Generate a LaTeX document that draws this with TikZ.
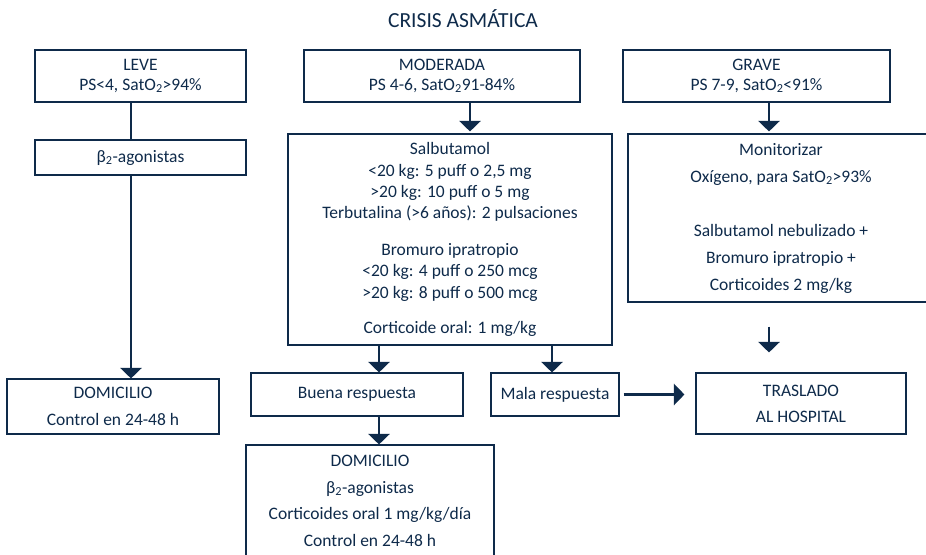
\documentclass[tikz,border=0pt]{standalone}
\usepackage{fontspec}
\setmainfont{Carlito}
\usetikzlibrary{arrows.meta}
\usetikzlibrary{positioning}
\definecolor{navy}{RGB}{14,42,74}

\begin{document}
\begin{tikzpicture}[x=1pt,y=-1pt]
\tikzstyle{box node}=[rectangle,draw=navy,line width=1.1pt,text=navy,align=center,inner sep=0pt,font=\fontsize{17.5}{20}\selectfont]
\tikzstyle{wide node}=[box node,font=\fontsize{17.5}{26.5}\selectfont]
\tikzstyle{link}=[draw=navy,line width=2.6pt]
\tikzstyle{arrow link}=[link,-{Triangle[width=21pt,length=10.5pt]}]

\useasboundingbox (0,0) rectangle (926,554);

    \node[text=navy,font=\fontsize{21.5}{24}\selectfont] (title) at (463,19) {CRISIS ASMÁTICA};

    \node[box node,minimum width=211pt,minimum height=52pt] (leve) at (140.5,76) {LEVE\\PS<4, SatO\textsubscript{2}>94\%};
    \node[box node,minimum width=276pt,minimum height=52pt] (mod)  at (442,76)   {MODERADA\\PS 4-6, SatO\textsubscript{2}91-84\%};
    \node[box node,minimum width=267pt,minimum height=52pt] (grave) at (756.5,76) {GRAVE\\PS 7-9, SatO\textsubscript{2}<91\%};

    \node[box node,minimum width=211pt,minimum height=35pt] (beta) at (140.5,157.5) {β\textsubscript{2}-agonistas};
    \node[box node,font=\fontsize{17.5}{21.2}\selectfont,minimum width=324pt,minimum height=211pt] (salb) at (450,239.5)
        {Salbutamol\\<20 kg: 5 puff o 2,5 mg\\>20 kg: 10 puff o 5 mg\\Terbutalina (>6 años): 2 pulsaciones\\[16pt]
         Bromuro ipratropio\\<20 kg: 4 puff o 250 mcg\\>20 kg: 8 puff o 500 mcg\\[14pt]Corticoide oral: 1 mg/kg};
    \node[wide node,font=\fontsize{17.5}{27}\selectfont,minimum width=306pt,minimum height=168pt] (trat) at (781,218)
        {Monitorizar\\Oxígeno, para SatO\textsubscript{2}>93\%\\ \\Salbutamol nebulizado +\\Bromuro ipratropio +\\Corticoides 2 mg/kg};

    \node[wide node,minimum width=212pt,minimum height=55pt] (dom) at (113,406.5) {DOMICILIO\\Control en 24-48 h};
    \node[box node,minimum width=212pt,minimum height=43pt] (buena) at (357,394.5) {Buena respuesta};
    \node[box node,minimum width=128pt,minimum height=43pt] (mala) at (555,394.5) {Mala respuesta};
    \node[wide node,font=\fontsize{17.5}{26}\selectfont,minimum width=210pt,minimum height=61pt] (hosp) at (801,403.5) {TRASLADO\\AL HOSPITAL};
    \node[wide node,minimum width=248pt,minimum height=112pt] (dom2) at (370,501)
        {DOMICILIO\\β\textsubscript{2}-agonistas\\Corticoides oral 1 mg/kg/día\\Control en 24-48 h};

    %%%%%%%%%%%%%%%%%%%%%%%%%%%%%%%%%%%%%%%%%%
    \coordinate (lcol) at (131,0);
    \coordinate (mcol) at (470,0);
    \coordinate (gcol) at (769,0);
    \coordinate (bcol) at (379,0);
    \coordinate (rcol) at (552,0);

    \draw[link] (leve.south -| lcol) -- (beta.north -| lcol);
    \draw[arrow link] (beta.south -| lcol) -- (dom.north -| lcol);
    \draw[arrow link,shorten >=2pt] (mod.south -| mcol) -- (salb.north -| mcol);
    \draw[arrow link,shorten >=2pt] (grave.south -| gcol) -- (trat.north -| gcol);
    \draw[arrow link] (salb.south -| bcol) -- (buena.north -| bcol);
    \draw[arrow link] (salb.south -| rcol) -- (mala.north -| rcol);
    \draw[arrow link] (buena.south -| bcol) -- (dom2.north -| bcol);
    \draw[arrow link,shorten <=4pt,shorten >=11pt] (mala.east) -- (hosp.west |- mala.east);
    \draw[arrow link,shorten <=24pt,shorten >=20pt] (trat.south -| gcol) -- (hosp.north -| gcol);
\end{tikzpicture}
\end{document}
